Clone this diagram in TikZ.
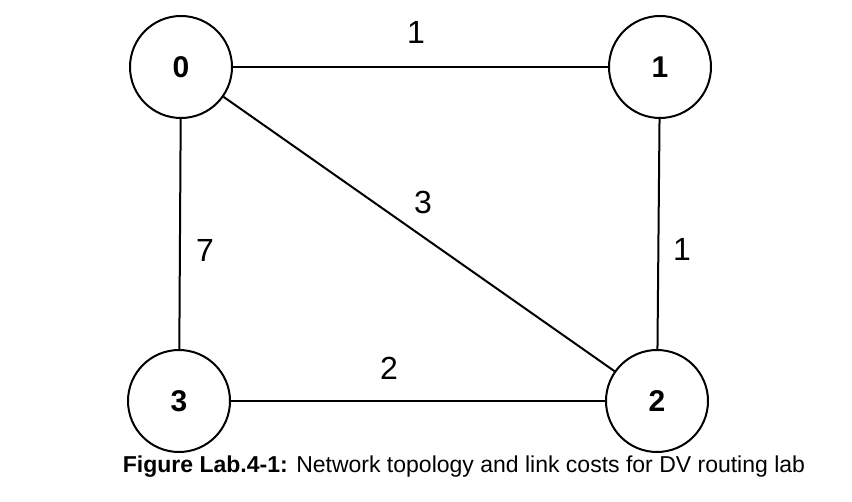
\documentclass[tikz,border=0pt]{standalone}
\usepackage{fontspec}
\setmainfont{Liberation Sans}
\usepackage{tikz}
\usetikzlibrary{arrows.meta, calc}

\begin{document}
\begin{tikzpicture}[x=0.5pt, y=-0.5pt, line width=1pt,
    router/.style={draw, circle, minimum size=51pt, inner sep=0pt,
        font=\fontsize{15}{17}\selectfont\bfseries},
    cost/.style={font=\fontsize{16}{18}\selectfont}]
    \useasboundingbox (0,0) rectangle (852,502);
    % routers
    \node[router] (r0) at (181,67)  {0};
    \node[router] (r1) at (660,67)  {1};
    \node[router] (r2) at (657,401) {2};
    \node[router] (r3) at (179,401) {3};
    % links
    \draw (r0) -- (r1);
    \draw (r1) -- (r2);
    \draw (r2) -- (r3);
    \draw (r3) -- (r0);
    \draw (r0) -- (r2);
    % link costs
    \node[cost] (c01) at (416,32)  {1};
    \node[cost] (c02) at (423,202) {3};
    \node[cost] (c12) at (682,249) {1};
    \node[cost] (c03) at (205,250) {7};
    \node[cost] (c23) at (389,368) {2};
    \node[font=\fontsize{11.5}{14}\selectfont] (cap) at (464,467)
        {\textbf{Figure Lab.4-1:} Network topology and link costs for DV routing lab};
\end{tikzpicture}
\end{document}
